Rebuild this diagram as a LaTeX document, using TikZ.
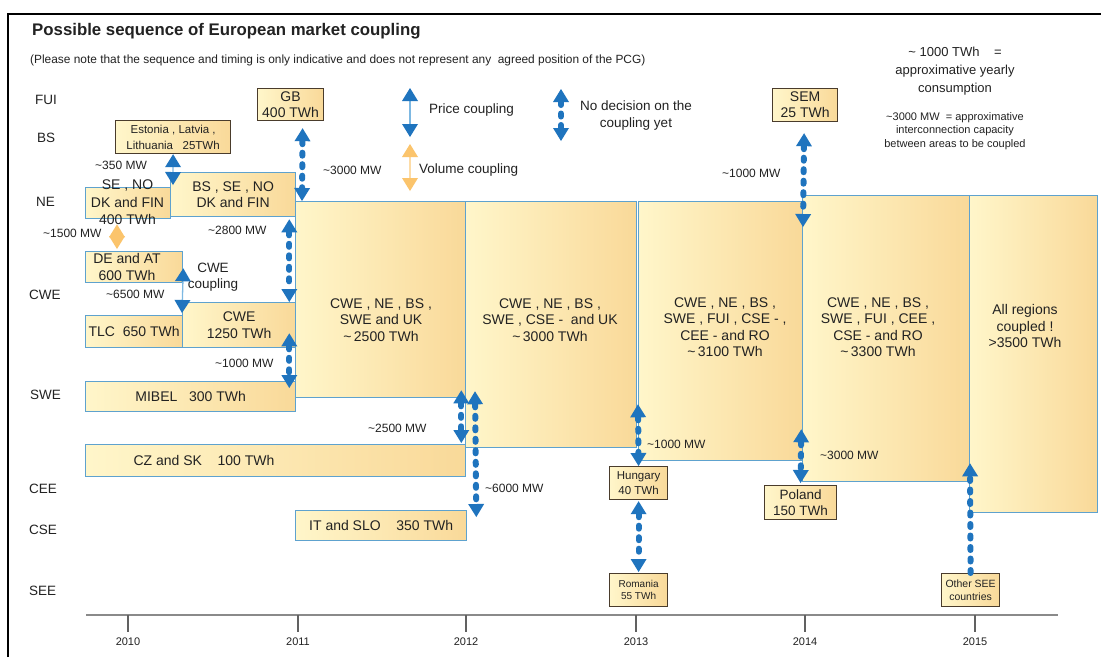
\documentclass[tikz,border=0pt]{standalone}
\usepackage{fontspec}
\setmainfont{Liberation Sans}
\usetikzlibrary{arrows.meta,calc}
\definecolor{fillL}{HTML}{FFF6CA}
\definecolor{fillR}{HTML}{F9D999}
\definecolor{bordB}{HTML}{5EA2CE}
\definecolor{bordD}{HTML}{4A3C2C}
\definecolor{arrB}{HTML}{1F74BE}
\definecolor{arrL}{HTML}{7DB8E2}
\definecolor{arrO}{HTML}{FBC46C}
\definecolor{axisG}{HTML}{8A8A8A}
\definecolor{ink}{HTML}{222222}
\newcommand{\tl}{\textasciitilde}
\begin{document}
\begin{tikzpicture}[x=1pt,y=-1pt,
  every node/.style={text=ink},
  region/.style={draw=bordB, line width=1.3pt, left color=fillL, right color=fillR, inner sep=0pt, anchor=north west, align=center},
  market/.style={draw=bordD, line width=1.2pt, left color=fillL, right color=fillR, inner sep=0pt, anchor=north west, align=center},
  lbl/.style={inner sep=0pt, align=center},
  boxfont/.style={font=\fontsize{14}{16.5}\selectfont},
  mw/.style={inner sep=0pt, anchor=west, font=\fontsize{12}{14}\selectfont},
  rowlab/.style={inner sep=0pt, anchor=west, font=\fontsize{13.5}{15}\selectfont},
  yearlab/.style={inner sep=0pt, font=\fontsize{11}{13}\selectfont},
  price/.style={draw=arrL, line width=1.3pt, {Triangle[width=16pt,length=13pt,line width=0pt,color=arrB]}-{Triangle[width=16pt,length=13pt,line width=0pt,color=arrB]}},
  volume/.style={draw=arrO!60, line width=1.3pt, {Triangle[width=16pt,length=13pt,line width=0pt,color=arrO]}-{Triangle[width=16pt,length=13pt,line width=0pt,color=arrO]}},
  nodec/.style={draw=arrB, line width=6pt, line cap=round, dash pattern=on 3pt off 8.5pt, {Triangle[width=16pt,length=13pt,line width=0pt]}-{Triangle[width=16pt,length=13pt,line width=0pt]}},
  nodecup/.style={draw=arrB, line width=6pt, line cap=round, dash pattern=on 3pt off 8.5pt, -{Triangle[width=16pt,length=13pt,line width=0pt]}}
]
\useasboundingbox (0,0) rectangle (1101,657);
\fill[white] (0,0) rectangle (1101,657);
\draw[line width=2.5pt] (8,657) -- (8,14) -- (1101,14);

% titles
\node[anchor=west, inner sep=0pt, font=\fontsize{16.8}{19}\bfseries] (title) at (32,31) {Possible sequence of European market coupling};
\node[anchor=west, inner sep=0pt, font=\fontsize{11.9}{13}\selectfont] (subtitle) at (30,60) {(Please note that the sequence and timing is only indicative and does not represent any\ \ agreed position of the PCG)};

% row labels
\node[rowlab] (rFUI) at (35,100) {FUI};
\node[rowlab] (rBS) at (37,138) {BS};
\node[rowlab] (rNE) at (36,202) {NE};
\node[rowlab] (rCWE) at (29,295) {CWE};
\node[rowlab] (rSWE) at (30,395) {SWE};
\node[rowlab] (rCEE) at (29,489) {CEE};
\node[rowlab] (rCSE) at (29,530) {CSE};
\node[rowlab] (rSEE) at (29,591) {SEE};

% axis
\draw[axisG, line width=1.5pt] (86,615) -- (1058,615);
\foreach \yr/\xx in {2010/128, 2011/298, 2012/466, 2013/636, 2014/805, 2015/975} {
  \draw[axisG!70!black, line width=1.2pt] (\xx,615) -- (\xx,632);
  \node[yearlab] (y\yr) at (\xx,642) {\yr};
}

% big coupled regions
\node[region, minimum width=170pt, minimum height=196pt] (big1) at (295,201) {};
\node[region, minimum width=171pt, minimum height=246pt] (big2) at (465,201) {};
\node[region, minimum width=164pt, minimum height=259pt] (big3) at (638,201) {};
\node[region, minimum width=167pt, minimum height=286pt] (big4) at (802,195) {};
\node[region, minimum width=128pt, minimum height=317pt] (big5) at (969,195) {};
\node[lbl, boxfont] (big1T) at (381,320) {CWE , NE , BS ,\\SWE and UK\\\tl\,2500 TWh};
\node[lbl, boxfont] (big2T) at (550,320) {CWE , NE , BS ,\\SWE , CSE -\ \ and UK\\\tl\,3000 TWh};
\node[lbl, boxfont] (big3T) at (725,327) {CWE , NE , BS ,\\SWE , FUI , CSE - ,\\CEE - and RO\\\tl\,3100 TWh};
\node[lbl, boxfont] (big4T) at (878,327) {CWE , NE , BS ,\\SWE , FUI , CEE ,\\CSE - and RO\\\tl\,3300 TWh};
\node[lbl, boxfont] (big5T) at (1025,326) {All regions\\coupled !\\>3500 TWh};

% regional boxes
\node[region, minimum width=85pt, minimum height=31pt] (senofin) at (85,187) {};
\node[lbl, font=\fontsize{14}{17.5}\selectfont] (senofinT) at (127.5,202.5) {SE , NO\\DK and FIN\\400 TWh};
\node[region, minimum width=125pt, minimum height=44pt, boxfont] (bsse) at (170,172) {BS , SE , NO\\DK and FIN};
\node[region, minimum width=97pt, minimum height=31pt] (deat) at (85,251) {};
\node[lbl, font=\fontsize{14}{17}\selectfont] (deatT) at (127,266.5) {DE and AT\\600 TWh};
\node[region, minimum width=97pt, minimum height=32pt, boxfont] (tlc) at (85,315) {TLC\ \ 650 TWh};
\node[region, minimum width=113pt, minimum height=45pt, font=\fontsize{14}{17}\selectfont] (cwe) at (182,302) {CWE\\1250 TWh};
\node[region, minimum width=210pt, minimum height=30pt, boxfont] (mibel) at (85,381) {MIBEL\ \ \ 300 TWh};
\node[region, minimum width=380pt, minimum height=32pt] (czsk) at (85,444) {};
\node[lbl, boxfont] (czskT) at (204,460) {CZ and SK\ \ \ \ 100 TWh};
\node[region, minimum width=171pt, minimum height=30pt, boxfont] (itslo) at (295,510) {IT and SLO\ \ \ \ 350 TWh};

% market boxes
\node[market, minimum width=66pt, minimum height=32pt, font=\fontsize{14}{16}\selectfont] (gb) at (257,88) {GB\\400 TWh};
\node[market, minimum width=115pt, minimum height=33pt, font=\fontsize{11.5}{16}\selectfont] (est) at (115,120) {Estonia , Latvia ,\\Lithuania\ \ \ 25TWh};
\node[market, minimum width=65pt, minimum height=33pt, font=\fontsize{14}{16}\selectfont] (sem) at (772,88) {SEM\\25 TWh};
\node[market, minimum width=58pt, minimum height=33pt, font=\fontsize{11.5}{15}\selectfont] (hun) at (609,466) {Hungary\\40 TWh};
\node[market, minimum width=58pt, minimum height=33pt, font=\fontsize{10}{12.5}\selectfont] (rom) at (609,573) {Romania\\55 TWh};
\node[market, minimum width=72pt, minimum height=34pt, font=\fontsize{13.5}{15.5}\selectfont] (pol) at (764,485) {Poland\\150 TWh};
\node[market, minimum width=58pt, minimum height=33pt, font=\fontsize{10.5}{12.5}\selectfont] (osee) at (941,573) {Other SEE\\countries};

% capacity labels
\node[mw] (m350) at (95,165) {\tl 350 MW};
\node[mw] (m3000a) at (323,170) {\tl 3000 MW};
\node[mw] (m1500) at (43,233) {\tl 1500 MW};
\node[mw] (m2800) at (208,230) {\tl 2800 MW};
\node[mw] (m6500) at (106,294) {\tl 6500 MW};
\node[lbl, font=\fontsize{13.5}{16}\selectfont] (cwecoup) at (213,277) {CWE\\coupling};
\node[mw] (m1000a) at (215,363) {\tl 1000 MW};
\node[mw] (m2500) at (368,428) {\tl 2500 MW};
\node[mw] (m6000) at (485,488) {\tl 6000 MW};
\node[mw] (m1000b) at (647,444) {\tl 1000 MW};
\node[mw] (m3000b) at (820,455) {\tl 3000 MW};
\node[mw] (m1000c) at (722,173) {\tl 1000 MW};

% couplings
\draw[nodec] ($(gb.south)+(12,7)$) -- ($(big1.north west)+(7,0)$);
\draw[price] (est.south) -- ($(bsse.north west)+(3,13)$);
\draw[volume] ($(senofin.south west)+(32,5)$) -- ($(deat.north west)+(32,-2)$);
\draw[price] ($(deat.south east)+(0,-15)$) -- ($(cwe.north west)+(0,11)$);
\draw[nodec] ($(bsse.south east)+(-7,2)$) -- ($(cwe.north east)+(-7,0)$);
\draw[nodec] ($(cwe.south east)+(-7,-15)$) -- ($(mibel.north east)+(-7,7)$);
\draw[nodec] ($(big1.south east)+(-5,-8)$) -- ($(czsk.north east)+(-5,-1)$);
\draw[nodec] ($(big2.south west)+(10,-57)$) -- ($(itslo.north east)+(9,7)$);
\draw[nodec] ($(big3.south west)+(0,-57)$) -- (hun.north);
\draw[nodec] ($(hun.south)+(0,1)$) -- ($(rom.north)+(0,-1)$);
\draw[nodec] ($(big3.south east)+(-2,-32)$) -- ($(pol.north)+(0,-2)$);
\draw[nodec] ($(sem.south)+(-1,11)$) -- ($(big4.north west)+(1,32)$);
\draw[nodecup] (osee.north) -- ($(big5.south west)+(1,-50)$);

% legend
\coordinate (lpA) at (410,88);
\coordinate (lpB) at (410,137);
\coordinate (lvA) at (410,144);
\coordinate (lvB) at (410,191);
\coordinate (lnA) at (561,89);
\coordinate (lnB) at (561,141);
\draw[price] (lpA) -- (lpB);
\draw[volume] (lvA) -- (lvB);
\draw[nodec] (lnA) -- (lnB);
\node[anchor=west, inner sep=0pt, font=\fontsize{13.5}{15}\selectfont] (lpT) at (429,110) {Price coupling};
\node[anchor=west, inner sep=0pt, font=\fontsize{13.5}{15}\selectfont] (lvT) at (419,170) {Volume coupling};
\node[lbl, font=\fontsize{13.5}{17}\selectfont] (lnT) at (636,116) {No decision on the\\coupling yet};

% notes
\node[lbl, font=\fontsize{13}{18}\selectfont] (note1) at (955,71) {\tl\ 1000 TWh\ \ \ \ =\\approximative yearly\\consumption};
\node[lbl, font=\fontsize{11}{13.5}\selectfont] (note2) at (955,131) {\tl 3000 MW\ \ = approximative\\interconnection capacity\\between areas to be coupled};
\end{tikzpicture}
\end{document}
